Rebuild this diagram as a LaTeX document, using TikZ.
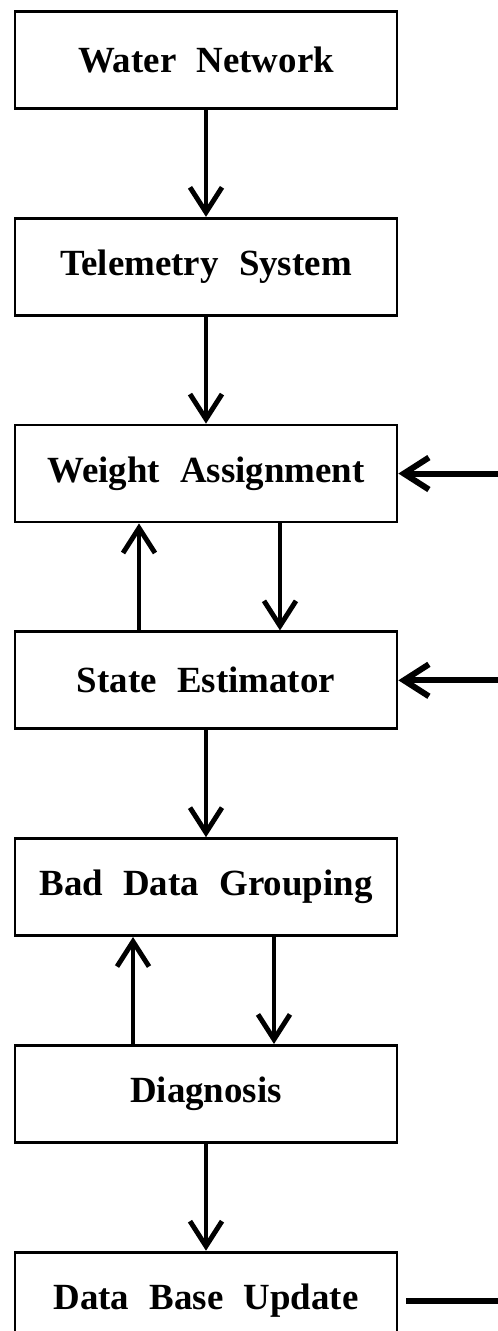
\documentclass[tikz,border=0pt]{standalone}
\usepackage{fontspec}
\setmainfont{Liberation Serif}
\usetikzlibrary{arrows.meta,positioning}
\newcommand\boxfont{\fontsize{21}{25}\selectfont\bfseries\spaceskip=0.55em\relax}

\begin{document}
\begin{tikzpicture}[x=0.02cm,y=-0.02cm,node distance=2.14cm,
  box/.style={draw,line width=1.6pt,minimum width=7.64cm,minimum height=1.94cm,inner sep=0pt,
    font=\boxfont},
  flow/.style={-{Straight Barb[length=0.5cm,width=0.64cm]},line width=2.8pt},
  back/.style={flow,line width=3.4pt}]
\useasboundingbox (0,0) rectangle (497,1331);
\node[box] (wn) at (206,60) {Water Network};
\node[box,below=of wn] (ts) {Telemetry System};
\node[box,below=of ts] (wa) {Weight Assignment};
\node[box,below=of wa] (se) {State Estimator};
\node[box,below=of se] (bdg) {Bad Data Grouping};
\node[box,below=of bdg] (dg) {Diagnosis};
\node[box,below=of dg] (dbu) {Data Base Update};
\draw[flow] (wn) -- (ts);
\draw[flow] (ts) -- (wa);
\draw[flow] ([xshift=-1.34cm]se.north) -- ([xshift=-1.34cm]wa.south);
\draw[flow] ([xshift=1.48cm]wa.south) -- ([xshift=1.48cm]se.north);
\draw[flow] (se) -- (bdg);
\draw[flow] ([xshift=-1.46cm]dg.north) -- ([xshift=-1.46cm]bdg.south);
\draw[flow] ([xshift=1.36cm]bdg.south) -- ([xshift=1.36cm]dg.north);
\draw[flow] (dg) -- (dbu);
% feedback from the data base
\coordinate (edge) at (505,0);
\draw[back] ([xshift=0.16cm]dbu.east) -| (edge |- wa.east) -- (wa.east);
\draw[back] (edge |- se.east) -- (se.east);
\end{tikzpicture}
\end{document}
